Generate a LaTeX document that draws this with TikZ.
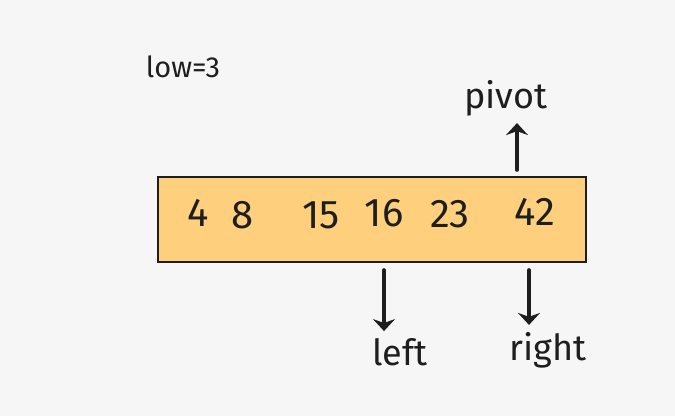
\documentclass[tikz,border=0pt]{standalone}
\usepackage{fontspec}
\setmainfont{Fira Sans}
\usetikzlibrary{arrows.meta,positioning}
\definecolor{bgcol}{HTML}{F6F6F6}
\definecolor{cellfill}{HTML}{FECF7D}
\definecolor{inkcol}{HTML}{1E1E1E}
\tikzset{
  num/.style={font=\fontsize{40}{42}\selectfont, text=inkcol},
  lbl/.style={font=\fontsize{36}{38}\selectfont, text=inkcol, inner sep=1pt},
  pointer/.style={draw=inkcol, line width=3.6pt, line cap=round, shorten >=6pt, -{Stealth[length=12pt,width=22pt]}}
}
\begin{document}
\begin{tikzpicture}[x=1pt,y=-1pt]
    \useasboundingbox[fill=bgcol] (0,0) rectangle (675,416);
    \node (arr) [draw=inkcol, line width=2.2pt, fill=cellfill, minimum width=428pt, minimum height=85pt, inner sep=0pt] at (372,219.5) {};
    \node (low) [font=\fontsize{29}{31}\selectfont, text=inkcol] at (183,67) {low=3};

    % Zahlen im Feld
    \node (n4) [num] at (198,213) {4};
    \node (n8) [num] at (243,215) {8};
    \node (n15) [num] at (321,215) {15};
    \node (n16) [num] at (384,213) {16};
    \node (n23) [num] at (450,214) {23};
    \node (n42) [num] at (535,212) {42};

    % Zeiger
    \node (pivot) [lbl] at (506,98) {pivot};
    \node (left) [lbl] at (400,352) {left};
    \node (right) [lbl] at (548,350) {right};
    \coordinate (pv) at (517,170);
    \coordinate (lf) at (384,270);
    \coordinate (rt) at (529,270);

    \draw[pointer] (pv) -- (pv |- pivot.south);
    \draw[pointer] (lf) -- (lf |- left.north);
    \draw[pointer] (rt) -- (rt |- right.north);
\end{tikzpicture}
\end{document}
